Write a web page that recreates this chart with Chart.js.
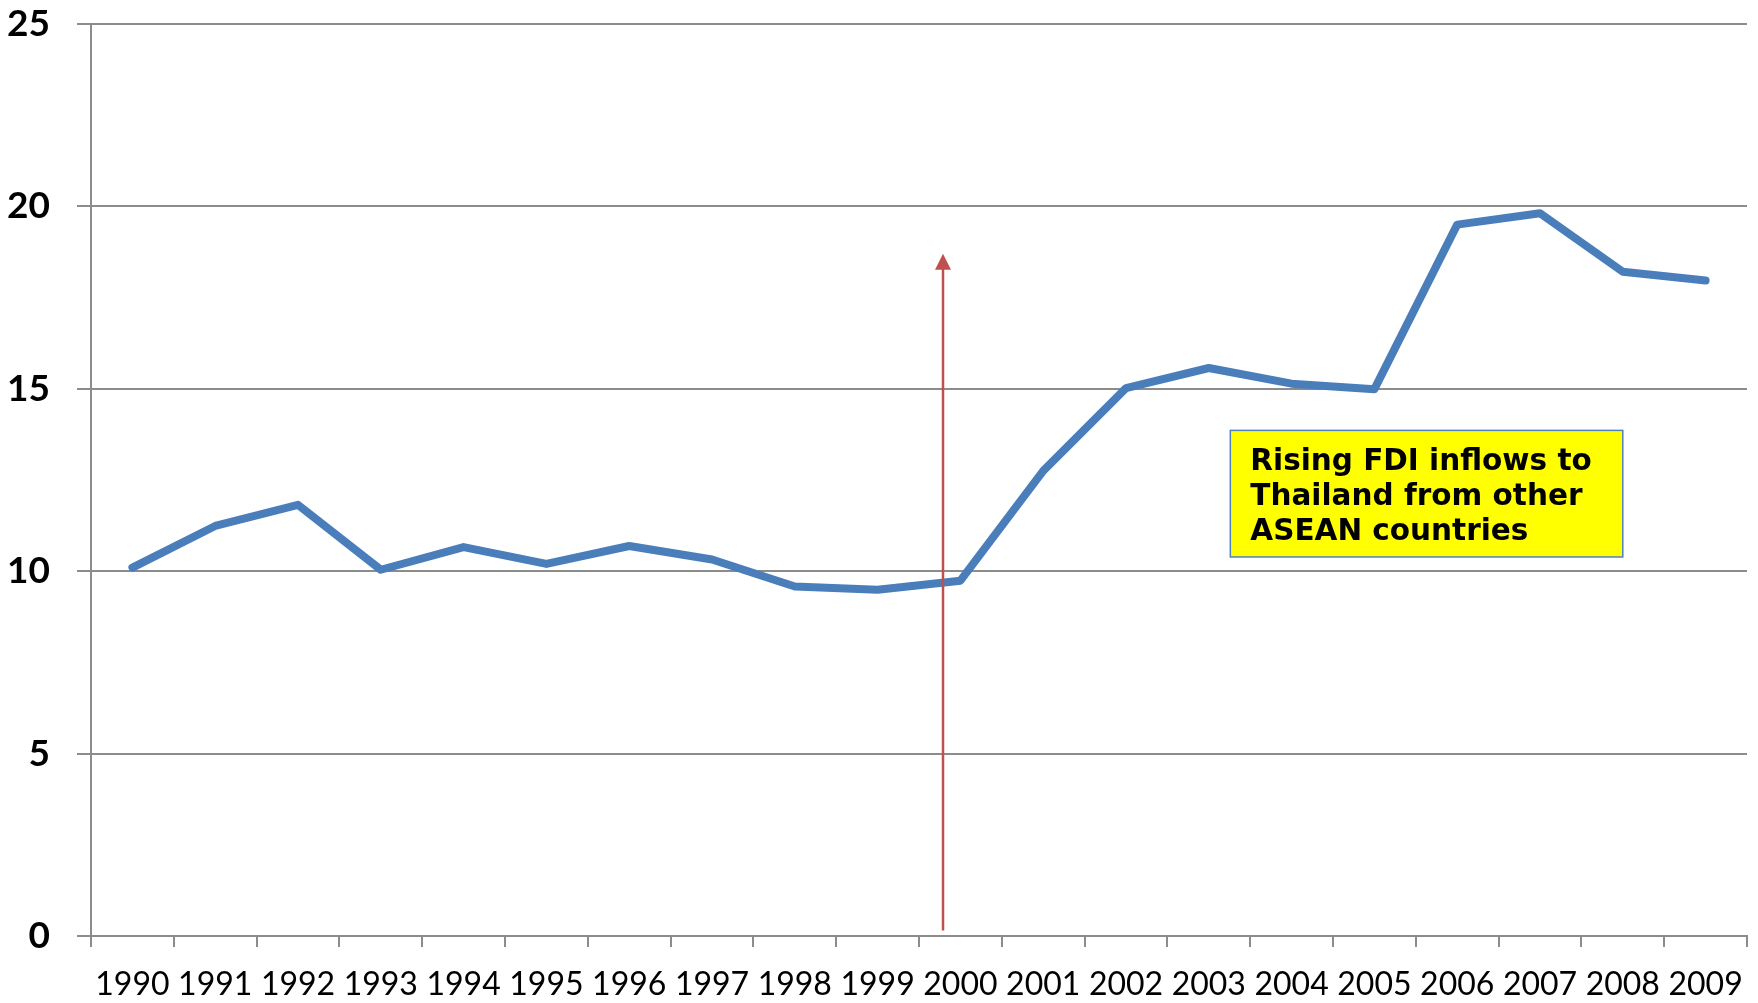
<!DOCTYPE html>
<html>
<head>
<meta charset="utf-8">
<script src="https://cdn.jsdelivr.net/npm/chart.js@4/dist/chart.umd.min.js"></script>
<style>
    html, body { margin: 0; padding: 0; background: #fff; }
    #wrap { width: 1758px; height: 1003px; }
</style>
</head>
<body>
<div id="wrap"><canvas id="chart"></canvas></div>
<script>
// data
var years = ['1990', '1991', '1992', '1993', '1994', '1995', '1996', '1997', '1998', '1999',
             '2000', '2001', '2002', '2003', '2004', '2005', '2006', '2007', '2008', '2009'];
var fdiShare = [10.10, 11.24, 11.82, 10.04, 10.66, 10.20, 10.69, 10.32, 9.58, 9.49,
                9.74, 12.75, 15.02, 15.57, 15.14, 14.99, 19.50, 19.81, 18.21, 17.97];
var yTicks = [0, 5, 10, 15, 20, 25];

// annotation: arrow and note, in data units (x = category index)
var arrowAt = { x: 9.79, from: 0.15, to: 18.7 };
var noteBox = { x0: 13.26, x1: 18.0, y0: 13.86, y1: 10.39 };
var noteLines = ['Rising FDI inflows to', 'Thailand from other', 'ASEAN countries'];

var annotations = {
    id: 'annotations',
    afterDatasetsDraw: function(chart) {
        var ctx = chart.ctx;
        var xs = chart.scales.x;
        var ys = chart.scales.y;

        // red arrow
        var ax = xs.getPixelForValue(arrowAt.x);
        var ay0 = ys.getPixelForValue(arrowAt.from);
        var ay1 = ys.getPixelForValue(arrowAt.to);
        ctx.save();
        ctx.strokeStyle = '#C0504D';
        ctx.fillStyle = '#C0504D';
        ctx.lineWidth = 2.5;
        ctx.beginPath();
        ctx.moveTo(ax, ay0);
        ctx.lineTo(ax, ay1 + 12);
        ctx.stroke();
        ctx.beginPath();
        ctx.moveTo(ax, ay1);
        ctx.lineTo(ax - 8, ay1 + 16);
        ctx.lineTo(ax + 8, ay1 + 16);
        ctx.closePath();
        ctx.fill();

        // yellow note
        var bx0 = xs.getPixelForValue(noteBox.x0);
        var bx1 = xs.getPixelForValue(noteBox.x1);
        var by0 = ys.getPixelForValue(noteBox.y0);
        var by1 = ys.getPixelForValue(noteBox.y1);
        ctx.fillStyle = '#FFFF00';
        ctx.fillRect(bx0, by0, bx1 - bx0, by1 - by0);
        ctx.strokeStyle = '#4F81BD';
        ctx.lineWidth = 1.5;
        ctx.strokeRect(bx0, by0, bx1 - bx0, by1 - by0);
        ctx.fillStyle = '#000';
        ctx.font = 'bold 29.5px "DejaVu Sans"';
        ctx.textBaseline = 'middle';
        ctx.textAlign = 'left';
        for (var i = 0; i < noteLines.length; i++) {
            ctx.fillText(noteLines[i], bx0 + 20, by0 + 32 + i * 35);
        }
        ctx.restore();
    }
};

var chart = new Chart(document.getElementById('chart'), {
    type: 'line',
    data: {
        labels: years,
        datasets: [{
            data: fdiShare,
            borderColor: '#4A7EBB',
            borderWidth: 8,
            borderCapStyle: 'round',
            borderJoinStyle: 'round',
            pointRadius: 0,
            tension: 0,
            fill: false
        }]
    },
    options: {
        responsive: true,
        maintainAspectRatio: false,
        animation: false,
        layout: { padding: { left: 0, right: 11, top: 24, bottom: 0 } },
        plugins: {
            legend: { display: false },
            tooltip: { enabled: false }
        },
        scales: {
            x: {
                offset: true,
                afterFit: function(scale) {
                    scale.height = 67;
                    scale.paddingLeft = 0;
                    scale.paddingRight = 0;
                },
                grid: {
                    offset: true,
                    drawOnChartArea: false,
                    drawTicks: true,
                    tickLength: 11,
                    color: '#8c8c8c',
                    lineWidth: 2
                },
                border: { color: '#8c8c8c', width: 2 },
                ticks: {
                    color: '#000',
                    font: { family: 'Lato', size: 32 },
                    padding: 18,
                    maxRotation: 0,
                    autoSkip: false
                }
            },
            y: {
                min: 0,
                max: 25,
                afterBuildTicks: function(scale) {
                    scale.ticks = yTicks.map(function(v) { return { value: v }; });
                },
                afterFit: function(scale) {
                    scale.width = 91;
                    scale.paddingTop = 0;
                    scale.paddingBottom = 0;
                },
                grid: {
                    color: '#8c8c8c',
                    lineWidth: 2,
                    tickLength: 14
                },
                border: { color: '#8c8c8c', width: 2 },
                ticks: {
                    color: '#000',
                    font: { family: 'Lato', size: 37, weight: 'bold' },
                    padding: 27
                }
            }
        }
    },
    plugins: [annotations]
});
</script>
</body>
</html>
